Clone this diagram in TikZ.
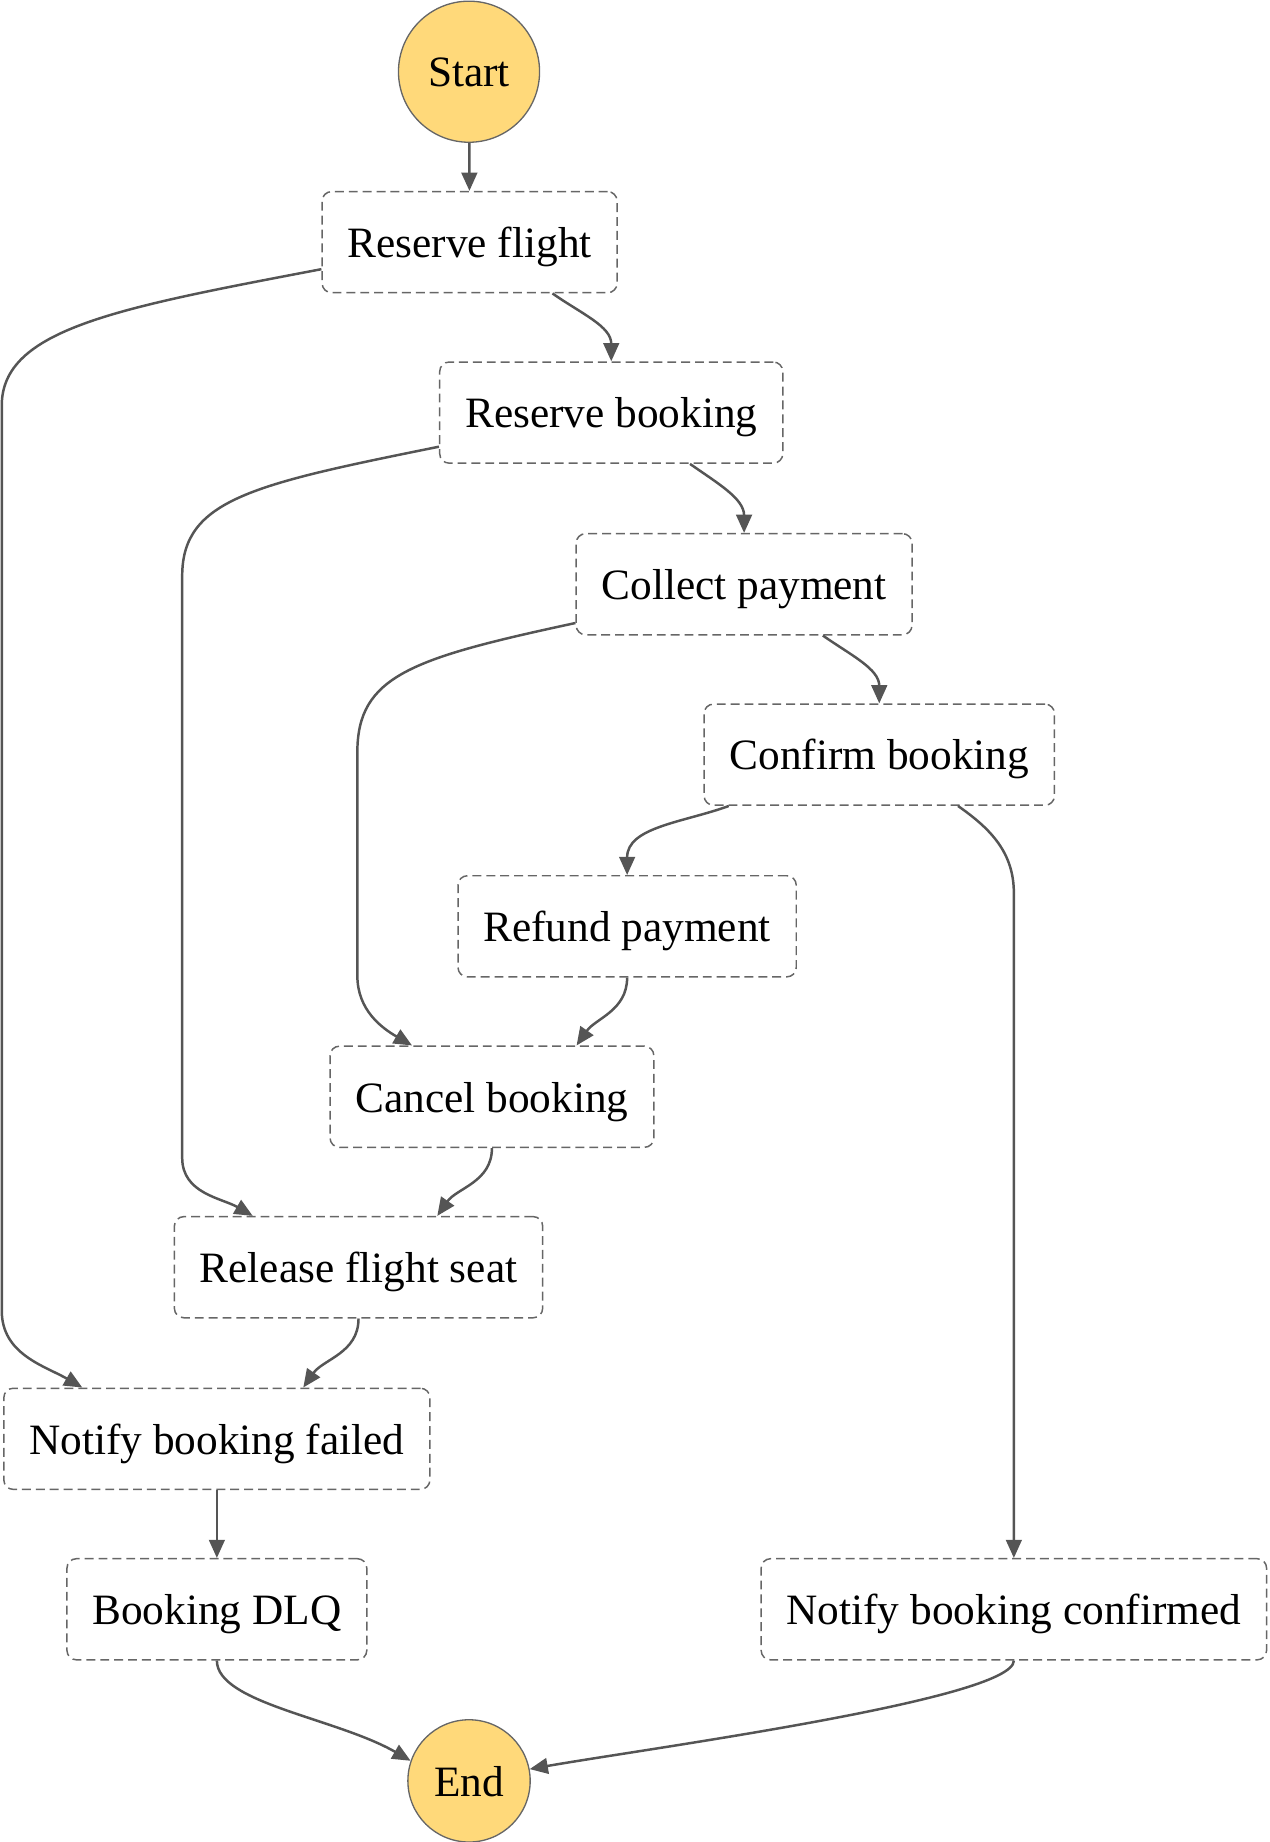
\documentclass[tikz,border=0pt]{standalone}
\usepackage{fontspec}
\setmainfont{Liberation Serif}
\usepackage{xcolor}
\usetikzlibrary{arrows.meta,calc}
\definecolor{termfill}{HTML}{FFD97A}
\definecolor{edgegray}{HTML}{555555}
\definecolor{boxgray}{HTML}{666666}

\begin{document}
\begin{tikzpicture}[x=0.025cm, y=0.025cm,
            every node/.style={
            inner sep=0pt, text centered, text height=0.7cm, text depth=0.05cm,
            font=\fontsize{26.2}{31}\selectfont}
        ]
        \tikzstyle {state_box} = [rectangle, rounded corners=0.2cm, draw=boxgray, line width=0.9pt,
            dash pattern=on 5.4pt off 3pt, inner xsep=0.54cm, minimum height=2.15cm]
        \tikzstyle {term_circ} = [circle, draw=boxgray, line width=0.8pt, fill=termfill]
        \tikzstyle {arr} = [draw=edgegray, line width=1.5pt,
            -{Triangle[length=11pt,width=9.5pt]}]

        \useasboundingbox (0,0) rectangle (1080,-1567);

        \node [term_circ, minimum size=3cm] (st) at (399,-61) {Start};
        \node [state_box] (rf) at (399.5,-206) {Reserve flight};
        \node [state_box] (rb) at (520,-351) {Reserve booking};
        \node [state_box] (cp) at (633,-497) {Collect payment};
        \node [state_box] (cfb) at (748,-642) {Confirm booking};
        \node [state_box] (rp) at (533.5,-788) {Refund payment};
        \node [state_box] (cb) at (418.5,-933) {Cancel booking};
        \node [state_box] (rfs) at (305,-1078) {Release flight seat};
        \node [state_box] (nbf) at (184.5,-1224) {Notify booking failed};
        \node [state_box] (dlq) at (184.5,-1369) {Booking DLQ};
        \node [state_box] (nbc) at (862.5,-1369) {Notify booking confirmed};
        \node [term_circ, minimum size=2.6cm] (en) at (399,-1515) {End};

        % happy path
        \draw [arr] (st) -- (rf);
        \draw [arr] ($(rf.south)+(70.5,0)$) to[out=-35,in=90] (rb.north);
        \draw [arr] ($(rb.south)+(67,0)$) to[out=-35,in=90] (cp.north);
        \draw [arr] ($(cp.south)+(67,0)$) to[out=-35,in=90] (cfb.north);
        \draw [arr] ($(cfb.south)+(67,0)$) to[out=-35,in=90] (862.5,-760) -- (nbc.north);
        \draw [arr] (nbc.south) to[out=-90,in=10,out looseness=0.2,in looseness=0.6] (en.11);

        % rollback path
        \draw [arr] ($(cfb.south)+(-128,0)$) to[out=200,in=90] (rp.north);
        \draw [arr] (rp.south) to[out=-90,in=55] ($(cb.north)+(72,0)$);
        \draw [arr] (cb.south) to[out=-90,in=55] ($(rfs.north)+(67,0)$);
        \draw [arr] (rfs.south) to[out=-90,in=55] ($(nbf.north)+(73.5,0)$);
        \draw [arr] ($(cp.west)+(0,-33)$) .. controls (350,-560) and (304,-575) .. (304,-640)
            -- (304,-830) to[out=-90,in=150] ($(cb.north)+(-68,0)$);
        \draw [arr] ($(rb.west)+(0,-29)$) .. controls (215,-412) and (155,-425) .. (155,-490)
            -- (155,-985) to[out=-90,in=150] ($(rfs.north)+(-90,0)$);
        \draw [arr] ($(rf.west)+(0,-23)$) .. controls (100,-262) and (1.5,-280) .. (1.5,-345)
            -- (1.5,-1115) to[out=-90,in=150] ($(nbf.north)+(-114.5,0)$);
        \draw [arr] (nbf) -- (dlq);
        \draw [arr] (dlq.south) to[out=-90,in=150,out looseness=0.5] (en.161);

\end{tikzpicture}
\end{document}
